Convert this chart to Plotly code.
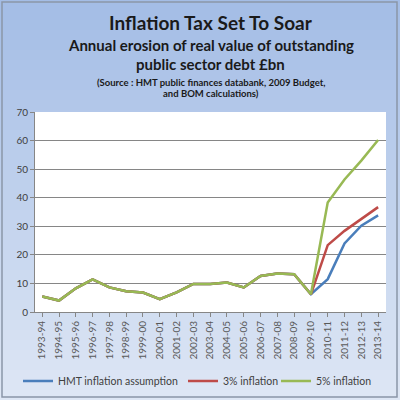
import plotly.graph_objects as go

years = ["1993-94", "1994-95", "1995-96", "1996-97", "1997-98", "1998-99",
         "1999-00", "2000-01", "2001-02", "2002-03", "2003-04", "2004-05",
         "2005-06", "2006-07", "2007-08", "2008-09", "2009-10", "2010-11",
         "2011-12", "2012-13", "2013-14"]

history = [5.4, 4.0, 8.3, 11.4, 8.6, 7.3, 6.8, 4.5, 6.9, 9.8, 9.8, 10.3,
           8.6, 12.6, 13.5, 13.2, 6.2]
hmt = history + [11.5, 24.0, 30.2, 33.8]
infl3 = history + [23.4, 28.4, 32.5, 36.7]
infl5 = history + [38.3, 46.4, 53.0, 60.2]

fig = go.Figure()
fig.add_trace(go.Scatter(x=years, y=hmt, mode="lines", name="HMT inflation assumption",
                         line=dict(color="#4a7ebb", width=2.5), legend="legend"))
fig.add_trace(go.Scatter(x=years, y=infl3, mode="lines", name="3% inflation",
                         line=dict(color="#be4b48", width=2.5), legend="legend2"))
fig.add_trace(go.Scatter(x=years, y=infl5, mode="lines", name="5% inflation",
                         line=dict(color="#98b954", width=2.5), legend="legend3"))

# gradient background made of bands (paper coords span the whole page)
shapes = []
n = 40
top_c = (164, 189, 230)
bot_c = (222, 231, 245)
y0p, y1p = -88 / 200, 1 + 112 / 200
x0p, x1p = -35 / 351, 1 + 14 / 351
for i in range(n):
    f = i / (n - 1)
    c = tuple(int(top_c[k] + (bot_c[k] - top_c[k]) * f) for k in range(3))
    ya = y1p - (y1p - y0p) * i / n
    yb = y1p - (y1p - y0p) * (i + 1) / n
    shapes.append(dict(type="rect", xref="paper", yref="paper", x0=x0p, x1=x1p,
                       y0=yb, y1=ya, fillcolor="rgb(%d,%d,%d)" % c,
                       line=dict(width=0), layer="below"))
shapes.append(dict(type="rect", xref="paper", yref="paper", x0=0, x1=1, y0=0, y1=1,
                   fillcolor="white", line=dict(width=0), layer="below"))
# outer border
shapes.append(dict(type="rect", xref="paper", yref="paper",
                   x0=-33 / 351, x1=1 + 11 / 351, y0=-85 / 200, y1=1 + 110 / 200,
                   line=dict(color="#8a96a8", width=1.5), layer="above"))

title_font = "Lato, 'Open Sans', sans-serif"
annotations = [
    dict(text="<b>Inflation Tax Set To Soar</b>", x=0.5, y=1 + 89 / 200,
         font=dict(size=19, color="#1a1a1a", family=title_font)),
    dict(text="<b>Annual erosion of real value of outstanding</b>", x=0.5, y=1 + 67 / 200,
         font=dict(size=15, color="#1a1a1a", family=title_font)),
    dict(text="<b>public sector debt £bn</b>", x=0.5, y=1 + 48 / 200,
         font=dict(size=15, color="#1a1a1a", family=title_font)),
    dict(text="<b>(Source : HMT public finances databank, 2009 Budget,</b>", x=0.5, y=1 + 30 / 200,
         font=dict(size=9.5, color="#1a1a1a", family=title_font)),
    dict(text="<b>and BOM calculations)</b>", x=0.5, y=1 + 18 / 200,
         font=dict(size=9.5, color="#1a1a1a", family=title_font)),
]
for a in annotations:
    a.update(xref="paper", yref="paper", showarrow=False, xanchor="center", yanchor="middle")

legend_style = dict(orientation="h", xref="container", yref="container", y=19 / 400,
                    yanchor="middle", xanchor="left", bgcolor="rgba(0,0,0,0)",
                    font=dict(size=10.5, color="#404040", family=title_font))

fig.update_layout(
    width=400, height=400,
    margin=dict(l=35, r=14, t=112, b=88),
    paper_bgcolor="#dde7f5",
    plot_bgcolor="white",
    shapes=shapes,
    annotations=annotations,
    showlegend=True,
    legend=dict(legend_style, x=18 / 400),
    legend2=dict(legend_style, x=183 / 400),
    legend3=dict(legend_style, x=276 / 400),
    xaxis=dict(type="category", range=[-0.43, 20.47], tickangle=-90, automargin=False,
               tickfont=dict(size=10, color="#595959", family=title_font),
               showgrid=False, showline=True, linecolor="#868686", linewidth=1,
               ticks="outside", ticklen=4, tickcolor="#868686"),
    yaxis=dict(range=[0, 70], dtick=10, showgrid=True, gridcolor="#868686", gridwidth=1,
               automargin=False,
               tickfont=dict(size=10, color="#404040", family=title_font),
               showline=True, linecolor="#868686", linewidth=1, zeroline=False,
               ticks="outside", ticklen=4, tickcolor="#868686"),
)

# page body has a default 8px margin; remove it so the figure fills the window
fig.write_html("out.html", config={"displayModeBar": False},
               post_script="document.body.style.margin='0';")
